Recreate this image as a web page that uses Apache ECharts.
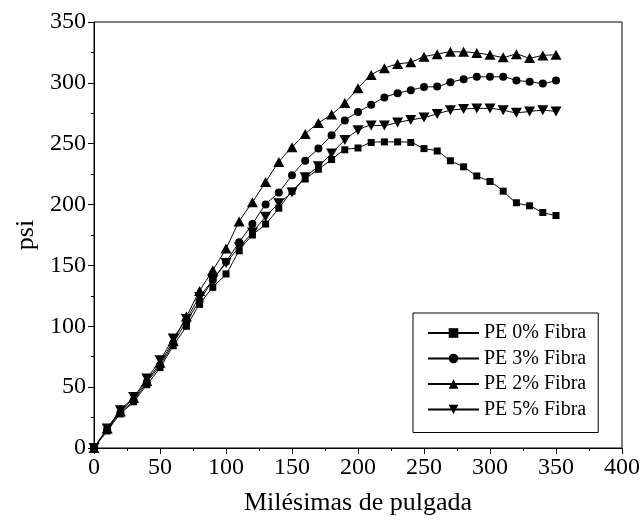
<!DOCTYPE html>
<html>
<head>
<meta charset="utf-8">
<script src="https://cdn.jsdelivr.net/npm/echarts@6/dist/echarts.min.js"></script>
<style>
  html, body { margin: 0; padding: 0; background: #fff; }
  #chart { width: 643px; height: 527px; }
</style>
</head>
<body>
<div id="chart"></div>
<script>
// x en milésimas de pulgada, cada 10
const xValues = [0, 10, 20, 30, 40, 50, 60, 70, 80, 90, 100, 110, 120, 130, 140, 150, 160, 170,
  180, 190, 200, 210, 220, 230, 240, 250, 260, 270, 280, 290, 300, 310, 320, 330, 340, 350]

const pe0 = [0, 14, 28, 38, 52, 66, 84, 100, 118, 132, 143, 162, 175, 184, 197, 211, 221, 229,
  237, 245, 246.5, 251, 251.5, 251.5, 251, 246, 244, 236, 231, 223.5, 219, 211, 201.5, 199, 193.5, 191]
const pe3 = [0, 15, 29, 39, 54, 68, 86, 104, 121, 138, 153, 169, 184, 200, 210, 224, 236, 246,
  257, 269, 276, 282, 288, 291.5, 294, 296.5, 297, 300.5, 303, 305, 305, 305, 302, 301, 299.5, 302]
const pe2 = [0, 16, 30, 41, 55, 70, 88, 108, 129, 146, 164, 186, 202, 218.5, 235, 247, 258, 267,
  274, 283.5, 295.5, 306.5, 312, 315.5, 317, 321.5, 323.5, 325.5, 325.5, 324.5, 323, 321, 323.5, 320.5, 322.5, 323]
const pe5 = [0, 16, 31, 42, 57, 72, 90, 106, 124, 138, 152, 165, 177, 190, 201, 210, 222.5, 231.5,
  242, 253, 261, 265, 265, 267.5, 269.5, 271.5, 274.5, 277.5, 278.5, 279, 279, 277.5, 275.5, 276.5, 277.5, 276.5]

const seriesNames = ['PE 0% Fibra', 'PE 3% Fibra', 'PE 2% Fibra', 'PE 5% Fibra']

const font = 'Liberation Serif'
const chart = echarts.init(document.getElementById('chart'))

function pairs(ys) {
  return xValues.map((x, i) => [x, ys[i]])
}

function makeSeries(name, ys, symbol, size) {
  return {
    name: name,
    type: 'line',
    data: pairs(ys),
    smooth: 0.3,
    symbol: symbol,
    symbolSize: size,
    showAllSymbol: true,
    lineStyle: { color: '#000', width: 1 },
    itemStyle: { color: '#000', borderWidth: 0 },
    emphasis: { disabled: true },
    animation: false
  }
}

const option = {
  animation: false,
  grid: {
    left: 94,
    right: 17,
    top: 22,
    bottom: 79,
    show: true,
    borderColor: '#000',
    borderWidth: 1,
    backgroundColor: 'transparent'
  },
  legend: {
    orient: 'vertical',
    left: 413,
    top: 313,
    padding: [10, 12, 13, 14],
    itemWidth: 51,
    itemHeight: 12,
    itemGap: 5.5,
    borderColor: '#000',
    borderWidth: 1,
    data: seriesNames,
    textStyle: { fontFamily: font, fontSize: 20, color: '#000', lineHeight: 20 }
  },
  xAxis: {
    type: 'value',
    min: 0,
    max: 400,
    interval: 50,
    name: 'Milésimas de pulgada',
    nameLocation: 'middle',
    nameGap: 42,
    nameTextStyle: { fontFamily: font, fontSize: 26, color: '#000' },
    axisLine: { lineStyle: { color: '#000', width: 1 } },
    axisTick: { inside: false, length: 6, lineStyle: { color: '#000' } },
    minorTick: { show: true, splitNumber: 2, length: 3, lineStyle: { color: '#000' } },
    axisLabel: { fontFamily: font, fontSize: 24, color: '#000', margin: 8 },
    splitLine: { show: false }
  },
  yAxis: {
    type: 'value',
    min: 0,
    max: 350,
    interval: 50,
    name: 'psi',
    nameLocation: 'middle',
    nameGap: 55,
    nameTextStyle: { fontFamily: font, fontSize: 26, color: '#000' },
    axisLine: { show: true, lineStyle: { color: '#000', width: 1 } },
    axisTick: { show: true, inside: false, length: 6, lineStyle: { color: '#000' } },
    minorTick: { show: true, splitNumber: 2, length: 3, lineStyle: { color: '#000' } },
    axisLabel: { fontFamily: font, fontSize: 24, color: '#000', margin: 8 },
    splitLine: { show: false }
  },
  series: [
    makeSeries(seriesNames[0], pe0, 'rect', 7),
    makeSeries(seriesNames[1], pe3, 'circle', 8),
    makeSeries(seriesNames[2], pe2, 'path://M5,0 L10,9 L0,9 Z', [11, 10]),
    makeSeries(seriesNames[3], pe5, 'path://M0,0 L10,0 L5,9 Z', [11, 10])
  ]
}

chart.setOption(option)
</script>
</body>
</html>
